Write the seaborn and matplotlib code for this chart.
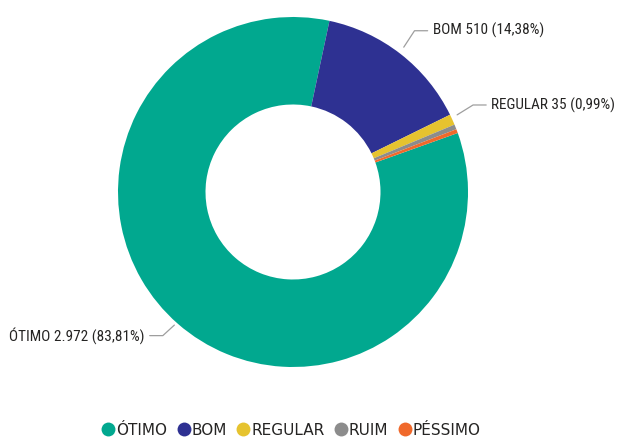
import numpy as np
import matplotlib
matplotlib.use("Agg")
import matplotlib.pyplot as plt
import seaborn as sns
from matplotlib.lines import Line2D

sns.set_theme(style="white")
plt.rcParams['font.family'] = ['DejaVu Sans']

categorias = ["ÓTIMO", "BOM", "REGULAR", "RUIM", "PÉSSIMO"]
quantidades = [2972, 510, 35, 16, 13]
cores = ["#01A88F", "#2E3192", "#E6C32F", "#8C8C8C", "#F0692B"]
rotulados = ["ÓTIMO", "BOM", "REGULAR"]

total = sum(quantidades)

fig = plt.figure(figsize=(6.22, 4.38), dpi=100)
cx, cy, r_px = 293, 192, 175
ax = fig.add_axes([(cx - r_px) / 622, (438 - cy - r_px) / 438, 2 * r_px / 622, 2 * r_px / 438])

wedges, _ = ax.pie(quantidades, colors=cores, startangle=19.7, counterclock=False,
                   radius=1.0, wedgeprops=dict(width=0.5, linewidth=0))
ax.set_xlim(-1, 1)
ax.set_ylim(-1, 1)
ax.set_aspect("equal")
ax.axis("off")

label_font = ['Liberation Sans Narrow', 'Roboto Condensed', 'Liberation Sans', 'DejaVu Sans']

def fmt_num(v):
    return f"{v:,}".replace(",", ".")

for w, cat, val in zip(wedges, categorias, quantidades):
    if cat not in rotulados:
        continue
    ang = np.deg2rad((w.theta1 + w.theta2) / 2)
    x0, y0 = 1.03 * np.cos(ang), 1.03 * np.sin(ang) + 0.015
    x1, y1 = 1.13 * np.cos(ang), 1.13 * np.sin(ang) + 0.03
    side = 1 if x1 >= 0 else -1
    x2 = x1 + side * 0.075
    ax.plot([x0, x1, x2], [y0, y1, y1], color="#9E9E9E", lw=0.9, clip_on=False)
    pct = f"{100 * val / total:.2f}".replace(".", ",")
    txt = f"{cat} {fmt_num(val)} ({pct}%)"
    ax.text(x2 + side * 0.03, y1, txt, ha="left" if side > 0 else "right", va="center",
            fontsize=11, color="#252423", family=label_font, clip_on=False)

handles = [Line2D([0], [0], marker="o", linestyle="", markersize=10,
                  markerfacecolor=c, markeredgewidth=0) for c in cores]
fig.legend(handles, categorias, loc="center", bbox_to_anchor=(0.466, 0.018),
           ncol=5, frameon=False, handletextpad=-0.1, columnspacing=0.5,
           handlelength=1.2, fontsize=11, labelcolor="#252423")

fig.savefig("out.png", dpi=100)
